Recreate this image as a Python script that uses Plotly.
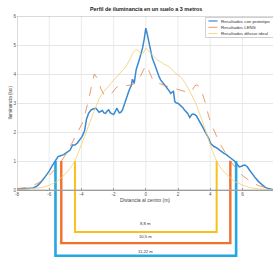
import plotly.graph_objects as go

# ---------------- data ----------------
title_text = "Perfil de iluminancia en un suelo a 3 metros"
x_label = "Distancia al centro (m)"
y_label = "Iluminancia (lux)"
series_names = ["Resultados con prototipo", "Resultados LENS", "Resultados difusor ideal"]

x_proto = [-8, -7.5, -7.0, -6.8, -6.6, -6.3, -6.0, -5.8, -5.6, -5.45, -5.3, -5.1, -4.9, -4.7,
           -4.55, -4.4, -4.25, -4.1, -3.95, -3.8, -3.68, -3.55, -3.4, -3.25, -3.1, -2.9, -2.8,
           -2.7, -2.6, -2.5, -2.4, -2.3, -2.2, -2.1, -2.0, -1.9, -1.8, -1.65, -1.55, -1.45, -1.35,
           -1.25, -1.15, -1.03, -0.9, -0.83, -0.72, -0.6, -0.5, -0.41, -0.3, -0.2, -0.1, 0, 0.08,
           0.17, 0.3, 0.4, 0.52, 0.62, 0.72, 0.83, 0.93, 1.04, 1.14, 1.24, 1.34, 1.45, 1.55, 1.65,
           1.72, 1.8, 1.9, 2.0, 2.1, 2.2, 2.3, 2.4, 2.5, 2.6, 2.73, 2.85, 2.95, 3.05, 3.15, 3.3,
           3.4, 3.5, 3.6, 3.72, 3.82, 3.93, 4.03, 4.13, 4.24, 4.4, 4.55, 4.7, 4.86, 5.0, 5.17,
           5.35, 5.5, 5.65, 5.8, 5.95, 6.1, 6.2, 6.3, 6.45, 6.6, 6.8, 7.0, 7.2, 7.4, 7.6, 7.8, 8.0]
y_proto = [0.03, 0.04, 0.07, 0.12, 0.22, 0.42, 0.65, 0.85, 1.02, 1.15, 1.18, 1.22, 1.3, 1.38,
           1.55, 1.55, 1.62, 1.72, 1.85, 2.05, 2.45, 2.65, 2.76, 2.8, 2.82, 2.68, 2.72, 2.74,
           2.66, 2.64, 2.72, 2.76, 2.66, 2.64, 2.6, 2.7, 2.82, 2.66, 2.68, 2.76, 2.9, 3.1, 3.25,
           3.45, 3.6, 3.82, 3.68, 4.15, 4.3, 4.48, 4.7, 4.9, 5.2, 5.58, 5.4, 5.15, 4.7, 4.55,
           4.38, 4.2, 4.02, 3.9, 3.79, 3.7, 3.62, 3.56, 3.5, 3.42, 3.33, 3.38, 3.4, 3.05, 3.0,
           2.99, 2.95, 2.9, 2.84, 2.76, 2.7, 2.64, 2.5, 2.6, 2.62, 2.6, 2.55, 2.42, 2.32, 2.2,
           2.1, 1.98, 1.9, 1.75, 1.6, 1.55, 1.5, 1.45, 1.38, 1.32, 1.26, 1.22, 1.15, 1.08, 1.0,
           0.9, 0.8, 0.82, 0.86, 0.85, 0.8, 0.68, 0.55, 0.42, 0.29, 0.18, 0.1, 0.05, 0.02, 0.01]

x_lens = [-8, -7.5, -7, -6.5, -6, -5.5, -5.25, -5.0, -4.6, -4.2, -3.9, -3.6, -3.4, -3.2, -3.0,
          -2.8, -2.6, -2.4, -2.2, -2.0, -1.8, -1.5, -1.2, -0.9, -0.6, -0.4, -0.2, 0, 0.2, 0.4,
          0.6, 0.9, 1.2, 1.5, 1.8, 2.1, 2.4, 2.7, 2.9, 3.05, 3.2, 3.35, 3.5, 3.7, 3.9, 4.2, 4.6,
          5.0, 5.25, 5.5, 6.0, 6.5, 7.0, 7.5, 8.0]
y_lens = [0.05, 0.08, 0.15, 0.3, 0.5, 0.8, 1.0, 1.2, 1.6, 2.0, 2.35, 3.0, 3.55, 4.0, 3.85,
          3.5, 3.3, 3.25, 3.28, 3.4, 3.55, 3.62, 3.6, 3.62, 3.7, 3.85, 4.05, 4.3, 4.1, 3.85,
          3.72, 3.65, 3.6, 3.55, 3.5, 3.45, 3.38, 3.35, 3.45, 3.6, 3.62, 3.55, 3.35, 3.0, 2.55,
          2.1, 1.6, 1.2, 1.0, 0.82, 0.5, 0.3, 0.15, 0.08, 0.04]

x_ideal = [-8, -7, -6.5, -6, -5.5, -5, -4.7, -4.4, -4.1, -3.8, -3.5, -3.2, -2.9, -2.6, -2.3,
           -2.0, -1.7, -1.4, -1.2, -1.0, -0.8, -0.62, -0.45, -0.3, -0.15, 0, 0.15, 0.3, 0.5,
           0.7, 0.93, 1.1, 1.3, 1.55, 1.8, 2.0, 2.2, 2.5, 2.8, 3.1, 3.4, 3.7, 4.0, 4.2, 4.4,
           4.7, 5.0, 5.5, 6.0, 6.5, 7.0, 8.0]
y_ideal = [0.01, 0.04, 0.08, 0.16, 0.3, 0.55, 0.75, 1.0, 1.4, 1.85, 2.3, 2.75, 3.15, 3.4, 3.6,
           3.8, 3.97, 4.15, 4.28, 4.5, 4.72, 4.85, 4.8, 4.68, 4.72, 4.9, 4.8, 4.7, 4.6, 4.5,
           4.4, 4.35, 4.3, 4.2, 4.05, 3.95, 3.88, 3.65, 3.35, 3.0, 2.55, 2.07, 1.55, 1.25, 1.0,
           0.72, 0.55, 0.3, 0.17, 0.08, 0.04, 0.01]

bracket_widths = [8.8, 10.5, 11.22]     # full width at 1 lux (m)
bracket_threshold = 1.0
x_ticks = [-8, -6, -4, -2, 0, 2, 4, 6, 8]
y_ticks = [0, 1, 2, 3, 4, 5, 6]

# ---------------- style ----------------
W, H = 273, 257
ML, MR, MT, MB = 17, 0, 16, 0
X_RANGE = [-8, 7.9]
Y_RANGE = [-2.31, 6]
FONT = "Liberation Sans"
line_colors = ["#3a8ad0", "#e3804a", "#f4cd72"]
line_widths = [1.5, 0.8, 0.8]
line_dashes = ["solid", "dash", "solid"]
bracket_colors = ["#f8c21c", "#f0702c", "#23a8e2"]
bracket_levels = [-1.45, -1.83, -2.27]
bracket_label_levels = [-1.17, -1.62, -2.12]
bracket_line_widths = [2, 2.4, 2.6]
grid_color = "#e6e6e6"
frame_color = "#a6a6a6"


def px(xp):
    return (xp - ML) / (W - ML - MR)


def py(yp):
    return (H - MB - yp) / (H - MT - MB)


fig = go.Figure()

# brackets
for w, c, lv, lw, ll in zip(bracket_widths, bracket_colors, bracket_levels,
                            bracket_line_widths, bracket_label_levels):
    fig.add_trace(go.Scatter(
        x=[-w / 2, -w / 2, w / 2, w / 2],
        y=[bracket_threshold, lv, lv, bracket_threshold],
        mode="lines", line=dict(color=c, width=lw), showlegend=False, hoverinfo="skip"))
    fig.add_annotation(x=0, y=ll, xref="x", yref="y", text=f"{w:g}".replace(".", ",") + " m",
                       showarrow=False, font=dict(family=FONT, size=4.2, color="#333333"))

# curves
for xs, ys, name, c, lw, d in zip([x_proto, x_lens, x_ideal], [y_proto, y_lens, y_ideal],
                                  series_names, line_colors, line_widths, line_dashes):
    fig.add_trace(go.Scatter(x=xs, y=ys, mode="lines", name=name,
                             line=dict(color=c, width=lw, dash=d), showlegend=False))

# vertical grid lines (only inside 0..6)
shapes = []
for t in x_ticks[1:-1]:
    shapes.append(dict(type="line", xref="x", yref="y", x0=t, x1=t, y0=y_ticks[0], y1=y_ticks[-1],
                       line=dict(color=grid_color, width=0.8), layer="below"))
# axes box
shapes.append(dict(type="rect", xref="x", yref="y", x0=x_ticks[0], x1=x_ticks[-1],
                   y0=y_ticks[0], y1=y_ticks[-1], line=dict(color=frame_color, width=0.8)))

# manual legend
shapes.append(dict(type="rect", xref="paper", yref="paper", x0=px(205.5), x1=px(276),
                   y0=py(37.5), y1=py(17.5), line=dict(color="#b0b0b0", width=0.6),
                   fillcolor="white"))
leg_rows = [21.0, 27.3, 33.5]
for name, c, lw, d, r in zip(series_names, line_colors, line_widths, line_dashes, leg_rows):
    shapes.append(dict(type="line", xref="paper", yref="paper", x0=px(208.5), x1=px(217.5),
                       y0=py(r), y1=py(r), line=dict(color=c, width=min(lw, 1.2), dash=d)))
    fig.add_annotation(x=px(219), y=py(r), xref="paper", yref="paper", text=name,
                       showarrow=False, xanchor="left", yanchor="middle",
                       font=dict(family=FONT, size=4.4, color="#333333"))

fig.update_layout(shapes=shapes)

# title and y label
fig.add_annotation(x=0, y=1, xref="x", yref="paper", text="<b>" + title_text + "</b>",
                   showarrow=False, yanchor="bottom", yshift=1.5,
                   font=dict(family=FONT, size=5.4, color="#222222"))
fig.add_annotation(x=px(5), y=3, xref="paper", yref="y", text=y_label, textangle=-90,
                   showarrow=False, font=dict(family=FONT, size=4.6, color="#444444"))

x_axis_pos = (0 - Y_RANGE[0]) / (Y_RANGE[1] - Y_RANGE[0])

fig.update_layout(
    width=W, height=H,
    margin=dict(l=ML, r=MR, t=MT, b=MB, pad=0, autoexpand=False),
    paper_bgcolor="white", plot_bgcolor="white",
    showlegend=False,
    font=dict(family=FONT, size=4.6, color="#555555"),
    xaxis=dict(range=X_RANGE, tickvals=x_ticks, ticktext=[str(t) for t in x_ticks],
               showgrid=False, zeroline=False, showline=True, linecolor="#999999",
               linewidth=0.8, ticks="inside", ticklen=2, tickcolor="#999999",
               anchor="free", position=x_axis_pos, automargin=False,
               tickfont=dict(family=FONT, size=4.6, color="#555555"),
               title=dict(text=x_label, standoff=2,
                          font=dict(family=FONT, size=5, color="#444444"))),
    yaxis=dict(range=Y_RANGE, tickvals=y_ticks, showgrid=True, gridcolor=grid_color,
               gridwidth=0.8, zeroline=False, showline=False, ticks="", automargin=False,
               tickfont=dict(family=FONT, size=4.6, color="#555555")),
)

fig.write_html("out.html", config={"displayModeBar": False},
               post_script="document.body.style.margin='0';document.body.style.overflow='hidden';")
